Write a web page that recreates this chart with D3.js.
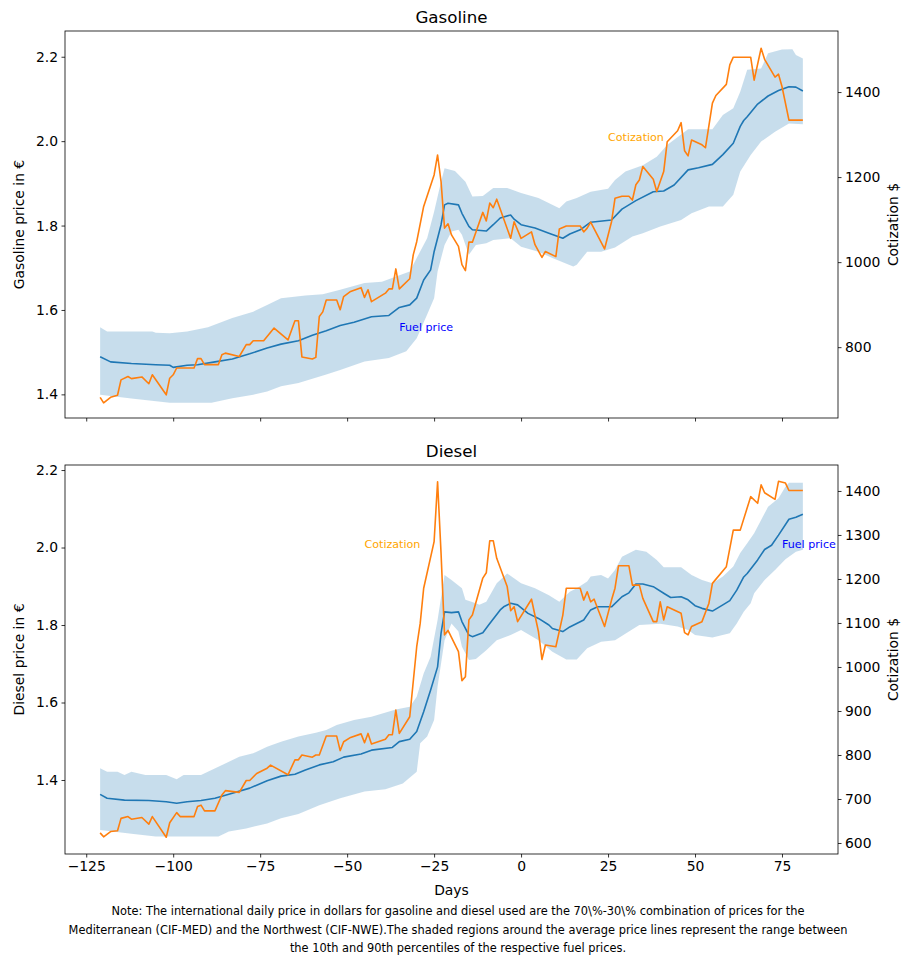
<!DOCTYPE html>
<html>
<head>
<meta charset="utf-8">
<script src="https://cdn.jsdelivr.net/npm/d3@7"></script>
<style>
  html, body { margin: 0; padding: 0; background: #fff; }
  svg { display: block; font-family: "DejaVu Sans", sans-serif; }
</style>
</head>
<body>
<svg id="chart" width="901" height="956"></svg>
<script>
// ---------------- DATA ----------------
const xTicks = [-125, -100, -75, -50, -25, 0, 25, 50, 75];
const priceTicks = [1.4, 1.6, 1.8, 2.0, 2.2];
const gasCotTicks = [800, 1000, 1200, 1400];
const dieselCotTicks = [600, 700, 800, 900, 1000, 1100, 1200, 1300, 1400];

// Gasoline: average fuel price (€), [day, value]
const gasMean = [[-121,1.489],[-118,1.477],[-112,1.473],[-105,1.470],[-101,1.469],[-100,1.464],[-96,1.469],[-93,1.470],[-88,1.477],[-83,1.484],[-78,1.496],[-73,1.510],[-69,1.519],[-64,1.527],[-60,1.540],[-56,1.551],[-52,1.563],[-48,1.571],[-43,1.584],[-38,1.587],[-35,1.606],[-32,1.612],[-30,1.628],[-28,1.671],[-26,1.695],[-25,1.738],[-23,1.802],[-22,1.849],[-21,1.853],[-18,1.849],[-17,1.829],[-15,1.798],[-14,1.790],[-10,1.787],[-8,1.802],[-6,1.818],[-3,1.825],[-2,1.815],[0,1.802],[4,1.794],[8,1.782],[12,1.770],[14,1.780],[17,1.790],[20,1.808],[26,1.813],[29,1.839],[33,1.859],[38,1.880],[41,1.882],[44,1.896],[48,1.932],[51,1.937],[55,1.945],[58,1.968],[61,1.995],[63,2.035],[64,2.049],[65,2.058],[68,2.088],[71,2.107],[74,2.120],[77,2.129],[79,2.128],[81,2.119]];
// Gasoline: 90th percentile
const gasUpper = [[-121,1.559],[-119,1.549],[-106,1.549],[-105,1.546],[-101,1.545],[-96,1.549],[-90,1.559],[-83,1.581],[-77,1.596],[-73,1.612],[-69,1.628],[-62,1.634],[-57,1.637],[-52,1.648],[-45,1.664],[-40,1.667],[-32,1.691],[-30,1.723],[-27,1.770],[-25,1.833],[-23,1.904],[-22,1.936],[-19,1.929],[-16,1.904],[-14,1.869],[-11,1.870],[-8,1.889],[-4,1.889],[0,1.877],[5,1.865],[11,1.841],[13,1.857],[16,1.865],[20,1.880],[25,1.887],[27,1.908],[30,1.928],[35,1.943],[39,1.963],[42,1.991],[48,2.028],[55,2.028],[58,2.062],[61,2.078],[63,2.117],[65,2.169],[69,2.172],[71,2.208],[75,2.217],[78,2.218],[79,2.204],[81,2.196]];
// Gasoline: 10th percentile
const gasLower = [[-121,1.399],[-112,1.390],[-101,1.380],[-89,1.380],[-83,1.391],[-77,1.399],[-73,1.407],[-69,1.419],[-64,1.427],[-56,1.447],[-52,1.458],[-45,1.478],[-38,1.486],[-33,1.502],[-30,1.533],[-27,1.589],[-25,1.628],[-24,1.691],[-22,1.754],[-20,1.786],[-18,1.790],[-17,1.778],[-15,1.731],[-13,1.754],[-10,1.758],[-8,1.766],[-3,1.770],[0,1.750],[5,1.738],[9,1.723],[15,1.703],[16,1.707],[19,1.738],[23,1.738],[27,1.748],[32,1.774],[35,1.782],[40,1.798],[46,1.813],[49,1.829],[54,1.845],[58,1.845],[61,1.873],[63,1.928],[66,1.967],[69,1.999],[73,2.022],[77,2.042],[81,2.040]];
// Gasoline: international cotization ($)
const gasCot = [[-121,682],[-120,669],[-118,682],[-116,687],[-115,723],[-113,731],[-112,726],[-109,730],[-107,714],[-106,735],[-102,688],[-101,727],[-100,735],[-99,751],[-94,751],[-93,773],[-92,773],[-91,759],[-87,759],[-86,782],[-85,786],[-81,778],[-79,806],[-78,806],[-77,815],[-74,815],[-71,845],[-67,817],[-65,862],[-64,862],[-63,777],[-60,772],[-59,776],[-58,872],[-57,883],[-56,911],[-53,911],[-52,888],[-51,919],[-49,931],[-46,940],[-45,917],[-44,935],[-43,907],[-39,927],[-38,937],[-37,937],[-36,984],[-35,937],[-32,961],[-31,1017],[-30,1048],[-28,1131],[-25,1205],[-24,1252],[-23,1189],[-22,1080],[-21,1090],[-20,1064],[-18,1037],[-17,994],[-16,980],[-15,1047],[-14,1047],[-11,1117],[-10,1097],[-9,1139],[-8,1128],[-7,1148],[-3,1056],[-2,1095],[0,1056],[3,1071],[4,1041],[6,1011],[7,1025],[10,1013],[11,1078],[13,1085],[17,1085],[18,1071],[19,1080],[20,1094],[24,1031],[26,1095],[27,1150],[29,1155],[31,1155],[32,1146],[33,1182],[34,1193],[35,1225],[38,1195],[39,1166],[41,1213],[42,1283],[45,1309],[46,1328],[47,1262],[48,1250],[49,1287],[52,1276],[53,1269],[55,1374],[56,1392],[59,1418],[60,1464],[61,1482],[66,1482],[67,1428],[69,1503],[70,1477],[73,1435],[74,1442],[75,1413],[77,1334],[81,1334]];

// Diesel: average fuel price (€)
const dieselMean = [[-121,1.363],[-119,1.353],[-114,1.348],[-107,1.347],[-102,1.344],[-99,1.340],[-96,1.344],[-92,1.347],[-88,1.353],[-83,1.366],[-78,1.379],[-73,1.398],[-69,1.410],[-65,1.415],[-62,1.426],[-58,1.439],[-54,1.447],[-51,1.459],[-46,1.467],[-43,1.477],[-37,1.484],[-35,1.499],[-32,1.505],[-30,1.525],[-28,1.576],[-26,1.632],[-24,1.692],[-23,1.779],[-22,1.834],[-20,1.832],[-18,1.834],[-17,1.809],[-15,1.774],[-14,1.770],[-11,1.780],[-9,1.804],[-6,1.839],[-5,1.847],[-3,1.856],[-1,1.852],[2,1.830],[5,1.817],[8,1.800],[9,1.791],[12,1.783],[14,1.795],[16,1.804],[18,1.813],[20,1.839],[22,1.847],[26,1.847],[29,1.873],[31,1.883],[33,1.906],[35,1.906],[38,1.899],[41,1.882],[43,1.871],[46,1.873],[48,1.865],[50,1.850],[52,1.843],[55,1.836],[58,1.852],[60,1.863],[62,1.890],[64,1.924],[65,1.933],[68,1.968],[70,1.995],[72,2.006],[74,2.032],[77,2.073],[79,2.078],[81,2.086]];
const dieselUpper = [[-121,1.430],[-119,1.421],[-116,1.421],[-114,1.413],[-112,1.421],[-108,1.413],[-102,1.413],[-99,1.402],[-97,1.413],[-92,1.413],[-87,1.434],[-81,1.460],[-77,1.469],[-73,1.486],[-69,1.499],[-64,1.512],[-59,1.522],[-56,1.529],[-53,1.542],[-48,1.555],[-43,1.563],[-36,1.582],[-32,1.589],[-30,1.615],[-28,1.675],[-26,1.718],[-24,1.813],[-22,1.929],[-20,1.916],[-17,1.895],[-16,1.865],[-13,1.856],[-12,1.852],[-10,1.860],[-7,1.908],[-4,1.933],[0,1.908],[4,1.895],[8,1.877],[11,1.860],[14,1.886],[16,1.895],[19,1.912],[20,1.925],[23,1.929],[25,1.920],[27,1.942],[29,1.976],[33,1.994],[36,1.989],[39,1.968],[41,1.949],[46,1.949],[49,1.929],[52,1.916],[55,1.908],[58,1.925],[61,1.951],[63,1.986],[65,2.011],[67,2.037],[69,2.071],[71,2.105],[74,2.127],[76,2.157],[77,2.167],[81,2.167]];
const dieselLower = [[-121,1.271],[-112,1.261],[-105,1.254],[-87,1.254],[-84,1.267],[-79,1.275],[-73,1.288],[-69,1.301],[-64,1.312],[-58,1.335],[-52,1.353],[-45,1.370],[-39,1.376],[-34,1.391],[-30,1.421],[-29,1.495],[-27,1.512],[-25,1.555],[-24,1.641],[-22,1.761],[-20,1.804],[-18,1.783],[-17,1.744],[-15,1.710],[-13,1.712],[-10,1.735],[-7,1.761],[-3,1.774],[0,1.787],[5,1.761],[9,1.731],[13,1.711],[16,1.711],[19,1.740],[23,1.757],[27,1.761],[31,1.783],[34,1.800],[40,1.803],[45,1.796],[48,1.787],[50,1.774],[55,1.768],[60,1.779],[62,1.804],[64,1.834],[66,1.856],[67,1.882],[70,1.916],[73,1.942],[76,1.970],[79,1.989],[81,1.994]];
const dieselCot = [[-121,623],[-120,614],[-118,626],[-116,628],[-115,656],[-113,660],[-112,654],[-109,658],[-107,643],[-106,660],[-102,613],[-101,646],[-99,669],[-98,660],[-94,660],[-93,683],[-92,686],[-91,673],[-88,673],[-86,709],[-85,719],[-81,715],[-79,742],[-78,742],[-76,758],[-73,770],[-72,777],[-67,755],[-65,789],[-64,789],[-63,800],[-60,795],[-59,800],[-58,800],[-56,843],[-53,843],[-52,810],[-51,830],[-49,840],[-46,848],[-45,828],[-44,849],[-43,825],[-39,836],[-38,846],[-37,846],[-36,902],[-35,849],[-32,887],[-30,1046],[-29,1099],[-28,1179],[-25,1285],[-24,1421],[-23,1258],[-22,1073],[-21,1083],[-18,1035],[-17,969],[-16,978],[-15,1107],[-14,1118],[-11,1202],[-10,1214],[-9,1287],[-8,1287],[-7,1247],[-4,1183],[-3,1128],[-2,1137],[-1,1103],[3,1154],[5,1080],[6,1017],[7,1050],[10,1046],[12,1118],[13,1179],[17,1179],[18,1152],[19,1171],[20,1148],[21,1154],[24,1092],[26,1152],[27,1179],[28,1230],[31,1230],[32,1186],[34,1186],[35,1156],[38,1103],[39,1103],[40,1148],[41,1107],[42,1137],[46,1122],[47,1078],[48,1073],[49,1092],[52,1103],[54,1145],[55,1190],[59,1228],[61,1311],[63,1311],[66,1387],[68,1372],[69,1414],[70,1396],[73,1381],[74,1422],[76,1418],[77,1401],[81,1401]];

const noteLines = [
  "Note: The international daily price in dollars for gasoline and diesel used are the 70\\%-30\\% combination of prices for the",
  "Mediterranean (CIF-MED) and the Northwest (CIF-NWE).The shaded regions around the average price lines represent the range between",
  "the 10th and 90th percentiles of the respective fuel prices."
];

// ---------------- DRAW ----------------
const svg = d3.select("#chart");
const BLUE = "#1f77b4", ORANGE = "#ff7f0e";
const FS_TICK = "13.9px";

const left = 65, right = 838;
const x = d3.scaleLinear().domain([-131.1, 91.1]).range([left, right]);

function panel(cfg) {
  const { top, bottom, yDom, y2Dom, title, yLabel, mean, upper, lower, cot,
          cotTicks, showXLabels, fuelAt, cotAt } = cfg;
  const y = d3.scaleLinear().domain(yDom).range([bottom, top]);
  const y2 = d3.scaleLinear().domain(y2Dom).range([bottom, top]);
  const g = svg.append("g");

  const clipId = "clip" + top;
  g.append("clipPath").attr("id", clipId).append("rect")
    .attr("x", left).attr("y", top).attr("width", right - left).attr("height", bottom - top);

  const plot = g.append("g").attr("clip-path", `url(#${clipId})`);

  // shaded band
  const ln = d3.line().x(d => x(d[0])).y(d => y(d[1]));
  const poly = upper.concat(lower.slice().reverse());
  plot.append("path").attr("d", ln(poly) + "Z")
    .attr("fill", BLUE).attr("fill-opacity", 0.25).attr("stroke", "none");

  plot.append("path").attr("d", ln(mean))
    .attr("fill", "none").attr("stroke", BLUE).attr("stroke-width", 1.6)
    .attr("stroke-linejoin", "round");

  const ln2 = d3.line().x(d => x(d[0])).y(d => y2(d[1]));
  plot.append("path").attr("d", ln2(cot))
    .attr("fill", "none").attr("stroke", ORANGE).attr("stroke-width", 1.6)
    .attr("stroke-linejoin", "round");

  // frame
  g.append("rect").attr("x", left).attr("y", top)
    .attr("width", right - left).attr("height", bottom - top)
    .attr("fill", "none").attr("stroke", "#000").attr("stroke-width", 0.8);

  const styleAxis = sel => {
    sel.select(".domain").remove();
    sel.selectAll(".tick line").attr("stroke", "#000").attr("stroke-width", 0.8);
    sel.selectAll(".tick text").attr("fill", "#000").style("font-size", FS_TICK)
      .style("font-family", "DejaVu Sans");
  };

  const xAxis = d3.axisBottom(x).tickValues(xTicks).tickSizeInner(3.5).tickSizeOuter(0)
    .tickPadding(3.5).tickFormat(showXLabels ? d3.format("d") : () => "");
  g.append("g").attr("transform", `translate(0,${bottom})`).call(xAxis).call(styleAxis);

  const yAxis = d3.axisLeft(y).tickValues(priceTicks).tickSizeInner(3.5).tickSizeOuter(0)
    .tickPadding(3.5).tickFormat(d3.format(".1f"));
  g.append("g").attr("transform", `translate(${left},0)`).call(yAxis).call(styleAxis);

  const y2Axis = d3.axisRight(y2).tickValues(cotTicks).tickSizeInner(3.5).tickSizeOuter(0)
    .tickPadding(3.5).tickFormat(d3.format("d"));
  g.append("g").attr("transform", `translate(${right},0)`).call(y2Axis).call(styleAxis);

  // title
  g.append("text").attr("x", (left + right) / 2).attr("y", top - 8)
    .attr("text-anchor", "middle").style("font-size", "16.7px").attr("fill", "#000")
    .text(title);

  // axis labels
  const midY = (top + bottom) / 2;
  g.append("text").attr("transform", `translate(24,${midY}) rotate(-90)`)
    .attr("text-anchor", "middle").style("font-size", FS_TICK).attr("fill", "#000")
    .text(yLabel);
  g.append("text").attr("transform", `translate(898,${midY}) rotate(-90)`)
    .attr("text-anchor", "middle").style("font-size", FS_TICK).attr("fill", "#000")
    .text("Cotization $");

  // annotations (left axis coords)
  g.append("text").attr("x", x(fuelAt[0])).attr("y", y(fuelAt[1]))
    .style("font-size", "11.1px").attr("fill", "blue").text("Fuel price");
  g.append("text").attr("x", x(cotAt[0])).attr("y", y(cotAt[1]))
    .style("font-size", "11.1px").attr("fill", "orange").text("Cotization");
}

panel({
  top: 31, bottom: 418, yDom: [1.344, 2.261], y2Dom: [633.4, 1543.6],
  title: "Gasoline", yLabel: "Gasoline price in €",
  mean: gasMean, upper: gasUpper, lower: gasLower, cot: gasCot,
  cotTicks: gasCotTicks, showXLabels: false,
  fuelAt: [-35, 1.55], cotAt: [25, 2.0]
});

panel({
  top: 465, bottom: 854, yDom: [1.209, 2.213], y2Dom: [575, 1459],
  title: "Diesel", yLabel: "Diesel price in €",
  mean: dieselMean, upper: dieselUpper, lower: dieselLower, cot: dieselCot,
  cotTicks: dieselCotTicks, showXLabels: true,
  fuelAt: [75, 2.0], cotAt: [-45, 2.0]
});

// x label
svg.append("text").attr("x", (left + right) / 2).attr("y", 895)
  .attr("text-anchor", "middle").style("font-size", FS_TICK).attr("fill", "#000")
  .text("Days");

// note
svg.append("g").selectAll("text").data(noteLines).join("text")
  .attr("x", 458).attr("y", (d, i) => 915 + i * 18.5)
  .attr("text-anchor", "middle").style("font-size", "11.4px").attr("fill", "#000")
  .text(d => d);
</script>
</body>
</html>
